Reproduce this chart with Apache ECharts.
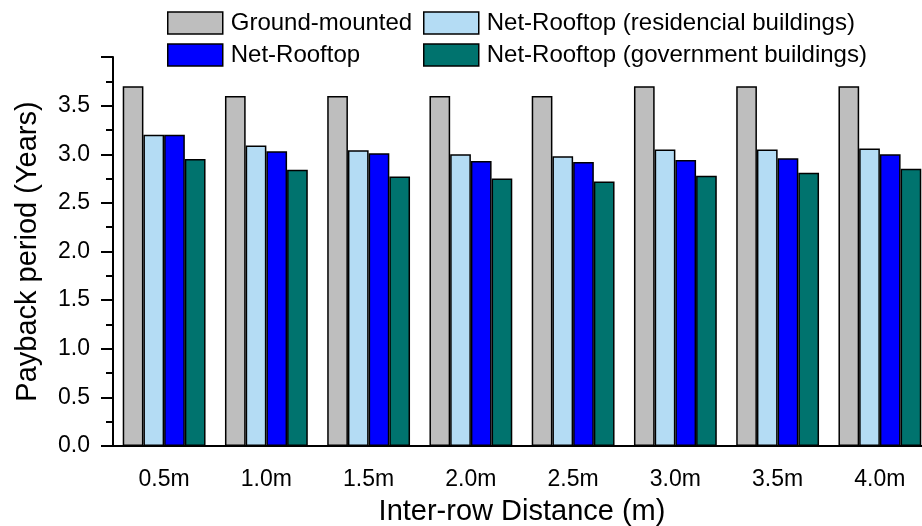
<!DOCTYPE html>
<html>
<head>
<meta charset="utf-8">
<script src="https://cdn.jsdelivr.net/npm/echarts@6/dist/echarts.min.js"></script>
<style>
  html, body { margin: 0; padding: 0; background: #fff; }
  #chart { width: 922px; height: 526px; }
</style>
</head>
<body>
<div id="chart"></div>
<script>
// Inter-row distance categories
const categories = ['0.5m', '1.0m', '1.5m', '2.0m', '2.5m', '3.0m', '3.5m', '4.0m'];

// Payback period (years) per installation type
const groundMounted = [3.7, 3.6, 3.6, 3.6, 3.6, 3.7, 3.7, 3.7];
const netRooftopResidential = [3.2, 3.09, 3.04, 3.0, 2.98, 3.05, 3.05, 3.06];
const netRooftop = [3.2, 3.03, 3.01, 2.93, 2.92, 2.94, 2.96, 3.0];
const netRooftopGovernment = [2.95, 2.84, 2.77, 2.75, 2.72, 2.78, 2.81, 2.85];

const FONT = 'Liberation Sans';

const chart = echarts.init(document.getElementById('chart'));

function barSeries(name, data, color) {
  return {
    name: name,
    type: 'bar',
    data: data,
    barGap: '0%',
    barCategoryGap: '19%',
    itemStyle: { color: color, borderColor: '#000', borderWidth: 1.5 }
  };
}

const legendText = { fontFamily: FONT, fontSize: 24, lineHeight: 22, color: '#000', padding: [0, 0, 0, 3] };

chart.setOption({
  backgroundColor: '#ffffff',
  animation: false,
  textStyle: { fontFamily: FONT },
  legend: [
    {
      left: 167, top: 11, orient: 'vertical', padding: 0,
      icon: 'rect', itemWidth: 55, itemHeight: 22, itemGap: 8,
      data: ['Ground-mounted', 'Net-Rooftop'],
      textStyle: legendText,
      itemStyle: { borderColor: '#000', borderWidth: 1.5 }
    },
    {
      left: 423, top: 11, orient: 'vertical', padding: 0,
      icon: 'rect', itemWidth: 55, itemHeight: 22, itemGap: 8,
      data: ['Net-Rooftop (residencial buildings)', 'Net-Rooftop (government buildings)'],
      textStyle: legendText,
      itemStyle: { borderColor: '#000', borderWidth: 1.5 }
    }
  ],
  // plot area runs past the right edge of the canvas, so the last group is cut off
  grid: { left: 113, top: 57, right: -9, bottom: 80, containLabel: false, outerBoundsMode: 'none' },
  xAxis: [
    {
      type: 'category',
      data: categories,
      boundaryGap: true,
      axisLine: { lineStyle: { color: '#000', width: 2 } },
      axisTick: { alignWithLabel: true, length: 12, lineStyle: { color: '#000', width: 2 } },
      axisLabel: { color: '#000', fontSize: 23, fontFamily: FONT, margin: 22 },
      name: 'Inter-row Distance (m)',
      nameLocation: 'middle',
      nameGap: 51,
      nameTextStyle: { color: '#000', fontSize: 29, fontFamily: FONT }
    },
    {
      type: 'category',
      data: categories,
      position: 'bottom',
      boundaryGap: true,
      axisLine: { show: false },
      axisTick: { alignWithLabel: false, length: 7, lineStyle: { color: '#000', width: 2 } },
      axisLabel: { show: false }
    }
  ],
  yAxis: {
    type: 'value',
    min: 0,
    max: 4,
    interval: 0.5,
    splitLine: { show: false },
    axisLine: { show: true, lineStyle: { color: '#000', width: 2 } },
    axisTick: { show: true, length: 12, lineStyle: { color: '#000', width: 2 } },
    minorTick: { show: true, splitNumber: 2, length: 7, lineStyle: { color: '#000', width: 2 } },
    axisLabel: {
      color: '#000', fontSize: 23, fontFamily: FONT, margin: 23,
      showMaxLabel: false,
      formatter: v => v.toFixed(1)
    },
    name: 'Payback period (Years)',
    nameLocation: 'middle',
    nameGap: 71,
    nameTextStyle: { color: '#000', fontSize: 29, fontFamily: FONT }
  },
  series: [
    barSeries('Ground-mounted', groundMounted, '#bebebe'),
    barSeries('Net-Rooftop (residencial buildings)', netRooftopResidential, '#b4dcf4'),
    barSeries('Net-Rooftop', netRooftop, '#0000ff'),
    barSeries('Net-Rooftop (government buildings)', netRooftopGovernment, '#00736e')
  ]
});
</script>
</body>
</html>
